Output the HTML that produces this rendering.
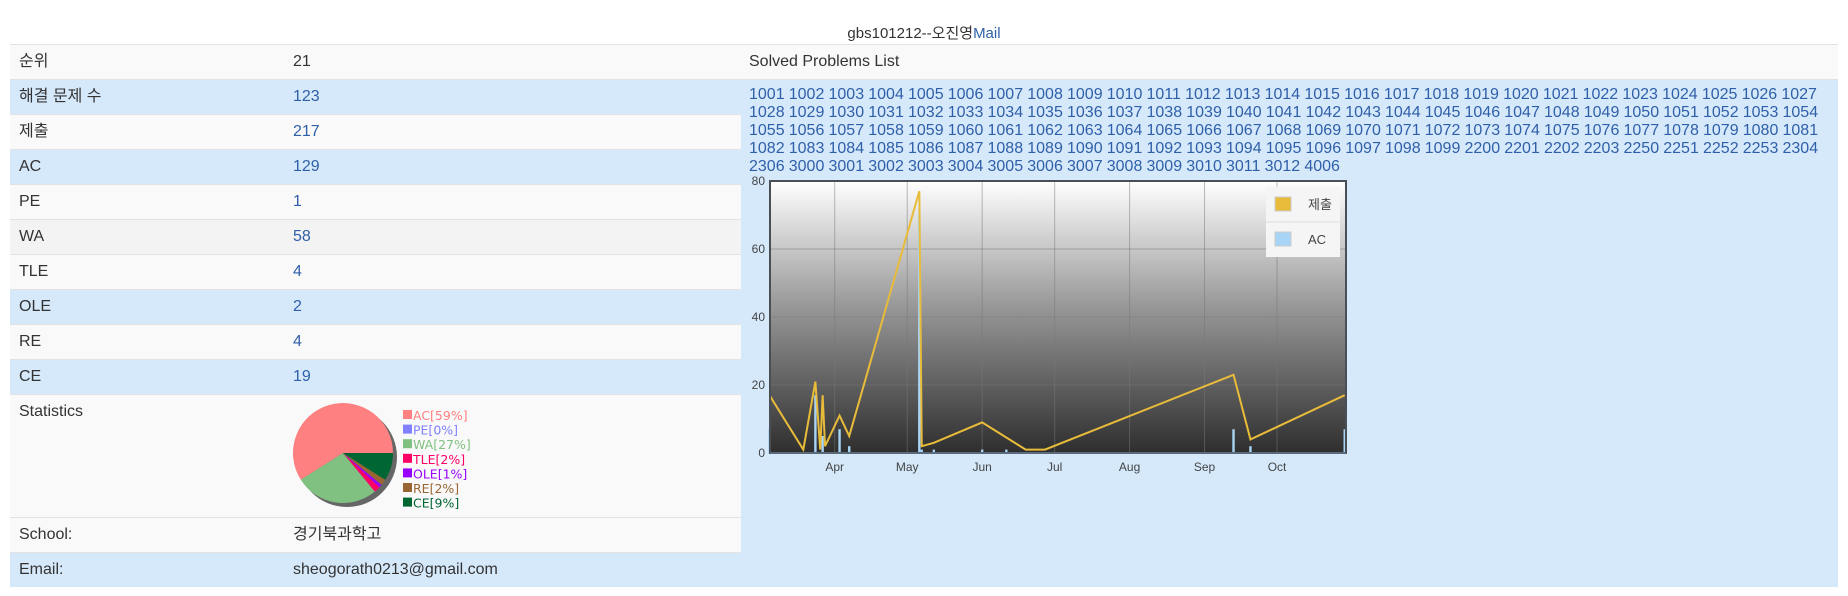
<!DOCTYPE html>
<html><head><meta charset="utf-8">
<style>
body{margin:0;width:1848px;height:596px;background:#fff;font-family:"Liberation Sans","Noto Sans CJK KR",sans-serif;position:relative;overflow:hidden;color:#333}
.title{position:absolute;top:24px;left:0;width:1848px;text-align:center;font-size:15px;line-height:20px;color:#333}
a{color:#2f5fa8;text-decoration:none}
.row{position:absolute;left:10px;width:731px;height:35px;border-top:1px solid #e2e2e2;box-sizing:border-box;font-size:16px}
.row .l{position:absolute;left:9px;top:0;line-height:34px;height:34px}
.row .v{position:absolute;left:283px;top:0;line-height:34px;height:34px}
.odd{background:#f9f9f9}.even{background:#d5e9fb}
#right-head{position:absolute;left:741px;top:44px;width:1097px;height:35px;background:#f9f9f9;border-top:1px solid #e2e2e2;box-sizing:border-box;font-size:16px}
#right-body{position:absolute;left:741px;top:79px;width:1097px;height:508px;background:#d5e9fb;border-top:1px solid #e2e2e2;box-sizing:border-box}
.probs{position:absolute;left:749px;top:86px;font-size:16px;line-height:18px;white-space:nowrap;word-spacing:-0.3px}
</style></head><body>
<div class="title">gbs101212--오진영<a href="#">Mail</a></div>
<div id="left">
<div class="row odd" style="top:44px"><span class="l">순위</span><span class="v">21</span></div>
<div class="row even" style="top:79px"><span class="l">해결 문제 수</span><a class="v" href="#">123</a></div>
<div class="row odd" style="top:114px"><span class="l">제출</span><a class="v" href="#">217</a></div>
<div class="row even" style="top:149px"><span class="l">AC</span><a class="v" href="#">129</a></div>
<div class="row odd" style="top:184px"><span class="l">PE</span><a class="v" href="#">1</a></div>
<div class="row even" style="top:219px;background:#f3f3f3"><span class="l">WA</span><a class="v" href="#">58</a></div>
<div class="row odd" style="top:254px"><span class="l">TLE</span><a class="v" href="#">4</a></div>
<div class="row even" style="top:289px"><span class="l">OLE</span><a class="v" href="#">2</a></div>
<div class="row odd" style="top:324px"><span class="l">RE</span><a class="v" href="#">4</a></div>
<div class="row even" style="top:359px"><span class="l">CE</span><a class="v" href="#">19</a></div>
<div class="row odd" style="top:394px;height:123px"><span class="l">Statistics</span></div>
<div class="row odd" style="top:517px;background:#f9f9f9"><span class="l">School:</span><span class="v">경기북과학고</span></div>
<div class="row even" style="top:552px"><span class="l">Email:</span><span class="v">sheogorath0213@gmail.com</span></div>
</div>
<div id="right-head"><span style="position:absolute;left:8px;top:0;line-height:34px">Solved Problems List</span></div>
<div id="right-body"></div>
<div class="probs" id="probs"></div>

<svg id="pie" style="position:absolute;left:280px;top:390px" width="220" height="130"></svg>
<svg id="chart" style="position:absolute;left:740px;top:170px" width="620" height="320"></svg>

<script>
const problemLines = [
"1001 1002 1003 1004 1005 1006 1007 1008 1009 1010 1011 1012 1013 1014 1015 1016 1017 1018 1019 1020 1021 1022 1023 1024 1025 1026 1027",
"1028 1029 1030 1031 1032 1033 1034 1035 1036 1037 1038 1039 1040 1041 1042 1043 1044 1045 1046 1047 1048 1049 1050 1051 1052 1053 1054",
"1055 1056 1057 1058 1059 1060 1061 1062 1063 1064 1065 1066 1067 1068 1069 1070 1071 1072 1073 1074 1075 1076 1077 1078 1079 1080 1081",
"1082 1083 1084 1085 1086 1087 1088 1089 1090 1091 1092 1093 1094 1095 1096 1097 1098 1099 2200 2201 2202 2203 2250 2251 2252 2253 2304",
"2306 3000 3001 3002 3003 3004 3005 3006 3007 3008 3009 3010 3011 3012 4006"];
const probs=document.getElementById('probs');
problemLines.forEach(line=>{
  const div=document.createElement('div');
  const parts=line.split(' ');
  parts.forEach((n,i)=>{
    const a=document.createElement('a');a.href='#';a.textContent=n;
    
    
    div.appendChild(a);
    if(i<parts.length-1)div.appendChild(document.createTextNode(' '));
  });
  probs.appendChild(div);
});

const pieLabels=["AC","PE","WA","TLE","OLE","RE","CE"];
const pieValues=[59,0,27,2,1,2,9];
const pieColors=["#ff8080","#8080ff","#80c080","#ff0066","#9900ff","#996633","#006633"];
const NS="http://www.w3.org/2000/svg";
function mk(tag,attrs,parent){const e=document.createElementNS(NS,tag);for(const k in attrs)e.setAttribute(k,attrs[k]);parent.appendChild(e);return e;}
(function(){
  const svg=document.getElementById('pie');
  const cx=63,cy=63,r=50;
  const sh=mk('circle',{cx:cx+4,cy:cy+4,r:r,fill:'#666'},svg);
  
  
  const tot=pieValues.reduce((a,b)=>a+b,0);
  let ang=0;
  pieValues.forEach((v,i)=>{
    const a0=ang,a1=ang+v/tot*2*Math.PI;ang=a1;
    if(v>0){
      const x0=cx+r*Math.cos(a0),y0=cy-r*Math.sin(a0),x1=cx+r*Math.cos(a1),y1=cy-r*Math.sin(a1);
      const p=mk('path',{d:`M${cx},${cy}L${x0},${y0}A${r},${r} 0 ${a1-a0>Math.PI?1:0} 0 ${x1},${y1}Z`,fill:pieColors[i]},svg);
      
      
    }
    const y=25+i*14.6;
    const s=mk('rect',{x:123,y:y-5,width:9,height:9,fill:pieColors[i]},svg);
    
    
    const t=mk('text',{x:133,y:y+5,fill:pieColors[i],'font-size':'12.5','font-family':'DejaVu Sans, sans-serif'},svg);
    t.textContent=pieLabels[i]+'['+v+'%]';
    
    
  });
})();

const submitDates=["03-05","03-19","03-24","03-26","03-27","03-28","04-03","04-07","05-06","05-07","05-12","06-01","06-19","06-27","09-13","09-20","10-29"];
const submitValues=[17,1,21,1,17,2,11,5,77,2,3,9,1,1,23,4,17];
const acDates=["03-05","03-24","03-27","04-03","04-07","05-06","05-07","05-12","06-01","06-11","09-13","09-20","10-29"];
const acValues=[7,17,5,7,2,70,1,1,1,1,7,2,7];
const yTicks=[0,20,40,60,80];
const monthLabels=["Apr","May","Jun","Jul","Aug","Sep","Oct"];
const monthStarts=["04-01","05-01","06-01","07-01","08-01","09-01","10-01"];

(function(){
  const svg=document.getElementById('chart');
  const L=30,R=606,T=11,B=283;
  function day(s){const [m,d]=s.split('-').map(Number);return (Date.UTC(2013,m-1,d)-Date.UTC(2013,2,1))/864e5;}
  const xs=d=>19.8+day(d)*2.417;
  const ys=v=>B-(v/80)*(B-T);
  const defs=mk('defs',{},svg);
  const g=mk('linearGradient',{id:'bg',x1:0,y1:0,x2:0,y2:1},defs);
  mk('stop',{offset:'0','stop-color':'#ffffff'},g);
  mk('stop',{offset:'0.45','stop-color':'#9a9a9a'},g);
  mk('stop',{offset:'1','stop-color':'#2e2e2e'},g);
  const bg=mk('rect',{x:L,y:T,width:R-L,height:B-T,fill:'url(#bg)'},svg);
  
  
  yTicks.forEach(v=>{
    if(v>0&&v<80){const l=mk('line',{x1:L,x2:R,y1:ys(v),y2:ys(v),stroke:'#777','stroke-opacity':0.5},svg);
    
    }
    const t=mk('text',{x:L-5,y:ys(v)+4,'text-anchor':'end','font-size':'12',fill:'#444','font-family':'Liberation Sans, sans-serif'},svg);
    t.textContent=v;
    
    
  });
  monthStarts.forEach((m,i)=>{
    const x=xs(m);
    const l=mk('line',{x1:x,x2:x,y1:T,y2:B,stroke:'#777','stroke-opacity':0.5},svg);
    
    
    const t=mk('text',{x:x,y:B+18,'text-anchor':'middle','font-size':'12',fill:'#444','font-family':'Liberation Sans, sans-serif'},svg);
    t.textContent=monthLabels[i];
    
    
  });
  acDates.forEach((d,i)=>{
    const x=xs(d);
    const b=mk('rect',{x:x-1.2,y:ys(acValues[i]),width:2.4,height:B-ys(acValues[i]),fill:'#a8d4f5'},svg);
    
    
  });
  const pts=submitDates.map((d,i)=>xs(d)+','+ys(submitValues[i])).join(' ');
  const pl=mk('polyline',{points:pts,fill:'none',stroke:'#e8bc3a','stroke-width':2},svg);
  
  
  const fr=mk('path',{d:`M${L},${B}L${L},${T}L${R},${T}L${R},${B}Z`,fill:'none',stroke:'#4a4f55','stroke-width':2},svg);
  
  
  const ax=mk('line',{x1:L,x2:R,y1:B,y2:B,stroke:'#5a6a7a','stroke-width':2},svg);
  
  
  const lg=mk('g',{},svg);
  
  
  mk('rect',{x:526,y:17,width:74,height:70,fill:'#f5f5f5'},lg);
  mk('line',{x1:526,x2:600,y1:52,y2:52,stroke:'#ddd'},lg);
  [["제출","#e8bc3a"],["AC","#a8d4f5"]].forEach((e,i)=>{
    const y=34+i*35;
    const s=mk('rect',{x:535,y:y-7,width:16,height:14,fill:e[1],stroke:'#ccc'},lg);
    
    
    const t=mk('text',{x:568,y:y+5,'font-size':'13',fill:'#444','font-family':'Liberation Sans, Noto Sans CJK KR, sans-serif'},lg);
    t.textContent=e[0];
    
    
  });
})();
</script>
</body></html>
